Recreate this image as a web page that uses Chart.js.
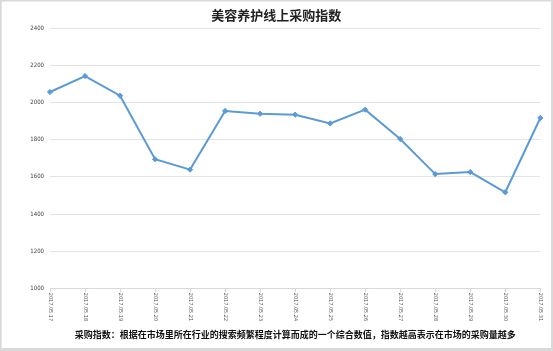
<!DOCTYPE html>
<html>
<head>
<meta charset="utf-8">
<script src="https://cdn.jsdelivr.net/npm/chart.js@4/dist/chart.umd.min.js"></script>
<style>
  html, body { margin: 0; padding: 0; background: #fff; }
  #wrap { width: 553px; height: 351px; position: relative; }
</style>
</head>
<body>
<div id="wrap"><canvas id="chart" width="553" height="351"></canvas></div>
<script>
// chart data
const categories = ['2017.05.17', '2017.05.18', '2017.05.19', '2017.05.20', '2017.05.21',
  '2017.05.22', '2017.05.23', '2017.05.24', '2017.05.25', '2017.05.26',
  '2017.05.27', '2017.05.28', '2017.05.29', '2017.05.30', '2017.05.31'];
const purchaseIndex = [2057, 2143, 2037, 1695, 1639, 1955, 1940, 1935, 1888, 1962, 1804, 1615, 1626, 1517, 1917];
const yTicks = [1000, 1200, 1400, 1600, 1800, 2000, 2200, 2400];
const titleText = '美容养护线上采购指数';
const noteText = '采购指数：根据在市场里所在行业的搜索频繁程度计算而成的一个综合数值，指数越高表示在市场的采购量越多';

const narrow = "'Liberation Sans Narrow', 'DejaVu Sans Condensed', Arial, sans-serif";

// white background + light frame round the picture
const framePlugin = {
  id: 'frame',
  beforeDraw(chart) {
    const ctx = chart.ctx;
    ctx.save();
    ctx.fillStyle = '#fff';
    ctx.fillRect(0, 0, chart.width, chart.height);
    ctx.fillStyle = '#d9d9d9';
    ctx.fillRect(0, 0, chart.width, 1.5);
    ctx.fillRect(0, 0, 1.7, chart.height);
    ctx.fillRect(chart.width - 2, 0, 2, chart.height);
    ctx.fillRect(0, chart.height - 3, chart.width, 3);
    ctx.restore();
  }
};

// x labels read top to bottom (rotated clockwise), which chart.js can't do itself
const xLabelPlugin = {
  id: 'xLabels',
  afterDraw(chart) {
    const ctx = chart.ctx;
    const xs = chart.scales.x;
    ctx.save();
    ctx.fillStyle = '#595959';
    ctx.font = '5.5px ' + narrow;
    ctx.textAlign = 'left';
    ctx.textBaseline = 'middle';
    categories.forEach((label, i) => {
      const x = xs.getPixelForValue(i);
      ctx.save();
      ctx.translate(x, chart.chartArea.bottom + 4.5);
      ctx.rotate(Math.PI / 2);
      ctx.fillText(label, 0, 0);
      ctx.restore();
    });
    ctx.restore();
  }
};

new Chart(document.getElementById('chart'), {
  type: 'line',
  data: {
    labels: categories,
    datasets: [{
      label: titleText,
      data: purchaseIndex,
      borderColor: '#5b9bd5',
      backgroundColor: '#5b9bd5',
      borderWidth: 2,
      pointStyle: 'rectRot',
      pointRadius: 2.6,
      pointBorderWidth: 1,
      tension: 0
    }]
  },
  options: {
    responsive: false,
    animation: false,
    layout: { padding: { left: 12, right: 12.7, top: 0, bottom: 0 } },
    scales: {
      x: {
        offset: false,
        grid: {
          display: true,
          drawOnChartArea: false,
          drawTicks: true,
          tickLength: 4,
          tickColor: '#d9d9d9'
        },
        border: { display: true, color: '#d9d9d9', width: 1 },
        ticks: { display: false }
      },
      y: {
        min: 1000,
        max: 2400,
        afterBuildTicks(scale) {
          scale.ticks = yTicks.map(v => ({ value: v }));
        },
        afterFit(scale) {
          scale.width = 38;
        },
        grid: { color: '#e3e3e3', lineWidth: 1, drawTicks: false },
        border: { display: false },
        ticks: {
          padding: 6,
          color: '#404040',
          font: { family: narrow, size: 6 },
          callback: (v) => String(v)
        }
      }
    },
    plugins: {
      legend: { display: false },
      tooltip: { enabled: false },
      title: {
        display: true,
        text: titleText,
        color: '#222',
        font: { family: "'Noto Sans CJK SC', sans-serif", size: 13, weight: 'bold' },
        padding: { top: 7.7, bottom: 5 }
      },
      subtitle: {
        display: true,
        text: noteText,
        position: 'bottom',
        fullSize: false,
        color: '#111',
        font: { family: "'Noto Sans CJK SC', sans-serif", size: 9, weight: 'bold', lineHeight: 1.2 },
        padding: { top: 37.3, bottom: 10.6 }
      }
    }
  },
  plugins: [framePlugin, xLabelPlugin]
});
</script>
</body>
</html>
